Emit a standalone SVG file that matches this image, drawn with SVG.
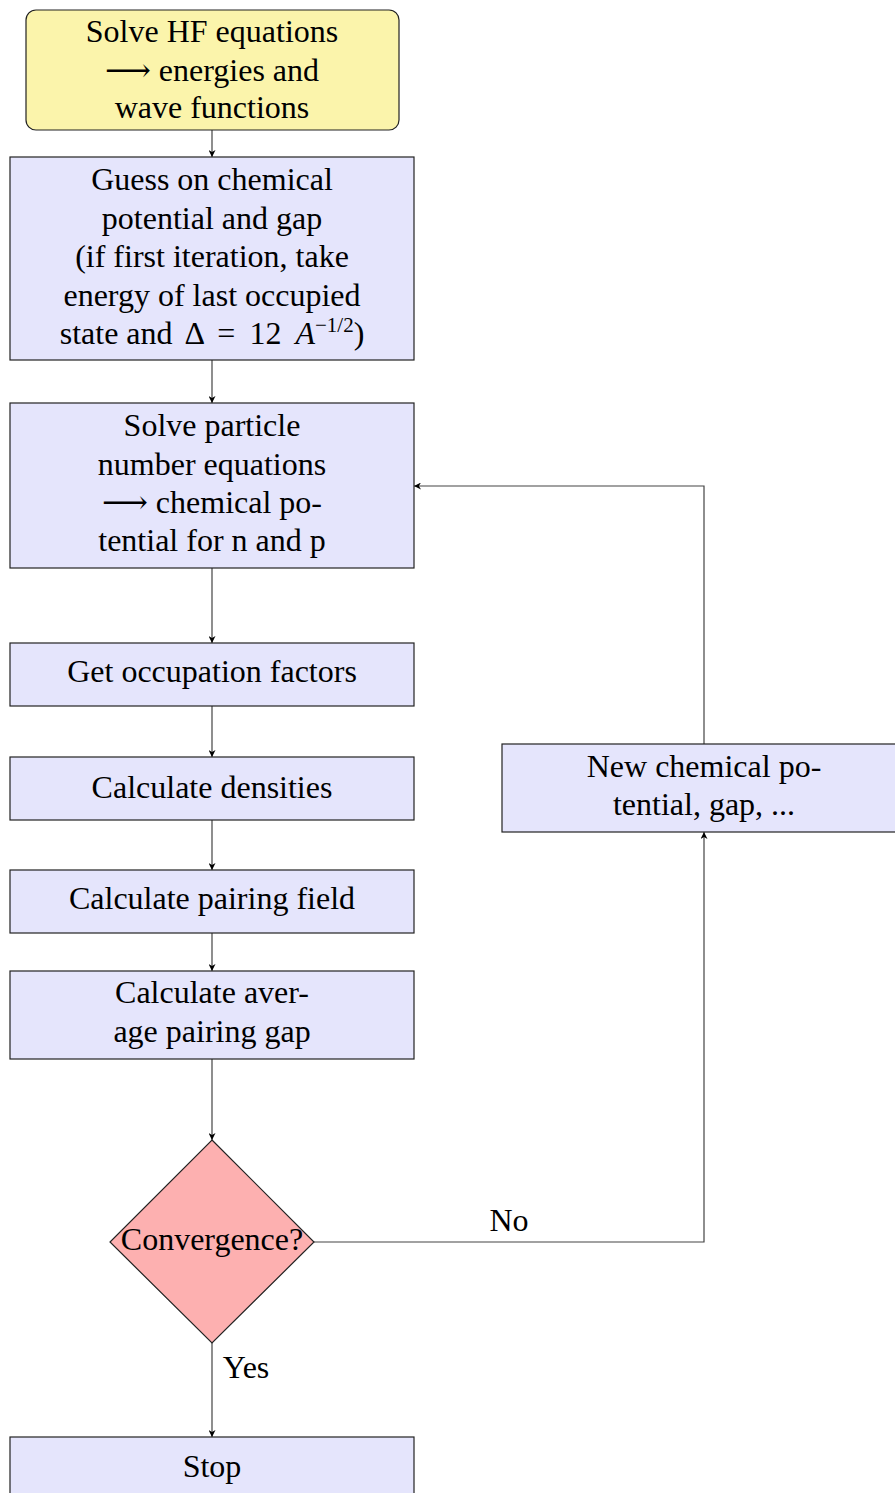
<svg xmlns="http://www.w3.org/2000/svg" width="895" height="1493" viewBox="0 0 895 1493">
<style>
text{font-family:"Liberation Serif","DejaVu Serif",serif;font-size:32px;fill:#000;text-anchor:middle}
.b{fill:#e5e5fc;stroke:#222;stroke-width:1.2}
.y{fill:#fbf4ab;stroke:#222;stroke-width:1.2}
.d{fill:#fdb0b0;stroke:#222;stroke-width:1.2}
.c{fill:none;stroke:#444;stroke-width:1.2}
</style>
<defs>
<marker id="ah" viewBox="0 0 10 10" refX="10" refY="5" markerWidth="7" markerHeight="7" markerUnits="userSpaceOnUse" orient="auto">
<path d="M0,0 L10,5 L0,10 L3,5 Z" fill="#000"/>
</marker>
</defs>
<rect width="895" height="1493" fill="#fff"/>
<g id="connectors">
<line class="c" x1="212" y1="130" x2="212" y2="157" marker-end="url(#ah)"/>
<line class="c" x1="212" y1="360" x2="212" y2="403" marker-end="url(#ah)"/>
<line class="c" x1="212" y1="568" x2="212" y2="643" marker-end="url(#ah)"/>
<line class="c" x1="212" y1="706" x2="212" y2="757" marker-end="url(#ah)"/>
<line class="c" x1="212" y1="820" x2="212" y2="870" marker-end="url(#ah)"/>
<line class="c" x1="212" y1="933" x2="212" y2="971" marker-end="url(#ah)"/>
<line class="c" x1="212" y1="1059" x2="212" y2="1140" marker-end="url(#ah)"/>
<line class="c" x1="212" y1="1343" x2="212" y2="1437" marker-end="url(#ah)"/>
<polyline class="c" points="314,1242 704,1242 704,832" marker-end="url(#ah)"/>
<polyline class="c" points="704,744 704,486 414,486" marker-end="url(#ah)"/>
<text x="509" y="1231">No</text>
<text x="246" y="1378">Yes</text>
</g>
<g id="n1">
<rect class="y" x="26" y="10" width="373" height="120" rx="10"/>
<text x="212" y="42">Solve HF equations</text>
<text x="212" y="81">⟶ energies and</text>
<text x="212" y="118">wave functions</text>
</g>
<g id="n2">
<rect class="b" x="10" y="157" width="404" height="203"/>
<text x="212" y="190">Guess on chemical</text>
<text x="212" y="229">potential and gap</text>
<text x="212" y="267">(if first iteration, take</text>
<text x="212" y="306">energy of last occupied</text>
<text x="212" y="344">state and <tspan dx="4">Δ</tspan> <tspan dx="6">=</tspan> <tspan dx="6">12</tspan> <tspan dx="6" font-style="italic">A</tspan><tspan font-size="21" dy="-12">−1/2</tspan><tspan dy="12">)</tspan></text>
</g>
<g id="n3">
<rect class="b" x="10" y="403" width="404" height="165"/>
<text x="212" y="436">Solve particle</text>
<text x="212" y="475">number equations</text>
<text x="212" y="513">⟶ chemical po-</text>
<text x="212" y="551">tential for n and p</text>
</g>
<g id="n4">
<rect class="b" x="10" y="643" width="404" height="63"/>
<text x="212" y="682">Get occupation factors</text>
</g>
<g id="n5">
<rect class="b" x="10" y="757" width="404" height="63"/>
<text x="212" y="798">Calculate densities</text>
</g>
<g id="n6">
<rect class="b" x="10" y="870" width="404" height="63"/>
<text x="212" y="909">Calculate pairing field</text>
</g>
<g id="n7">
<rect class="b" x="10" y="971" width="404" height="88"/>
<text x="212" y="1003">Calculate aver-</text>
<text x="212" y="1042">age pairing gap</text>
</g>
<g id="n8">
<polygon class="d" points="212,1140 314,1242 212,1343 110,1242"/>
<text x="212" y="1250">Convergence?</text>
</g>
<g id="n9">
<rect class="b" x="10" y="1437" width="404" height="70"/>
<text x="212" y="1477">Stop</text>
</g>
<g id="n10">
<rect class="b" x="502" y="744" width="400" height="88"/>
<text x="704" y="777">New chemical po-</text>
<text x="704" y="815">tential, gap, ...</text>
</g>
</svg>
